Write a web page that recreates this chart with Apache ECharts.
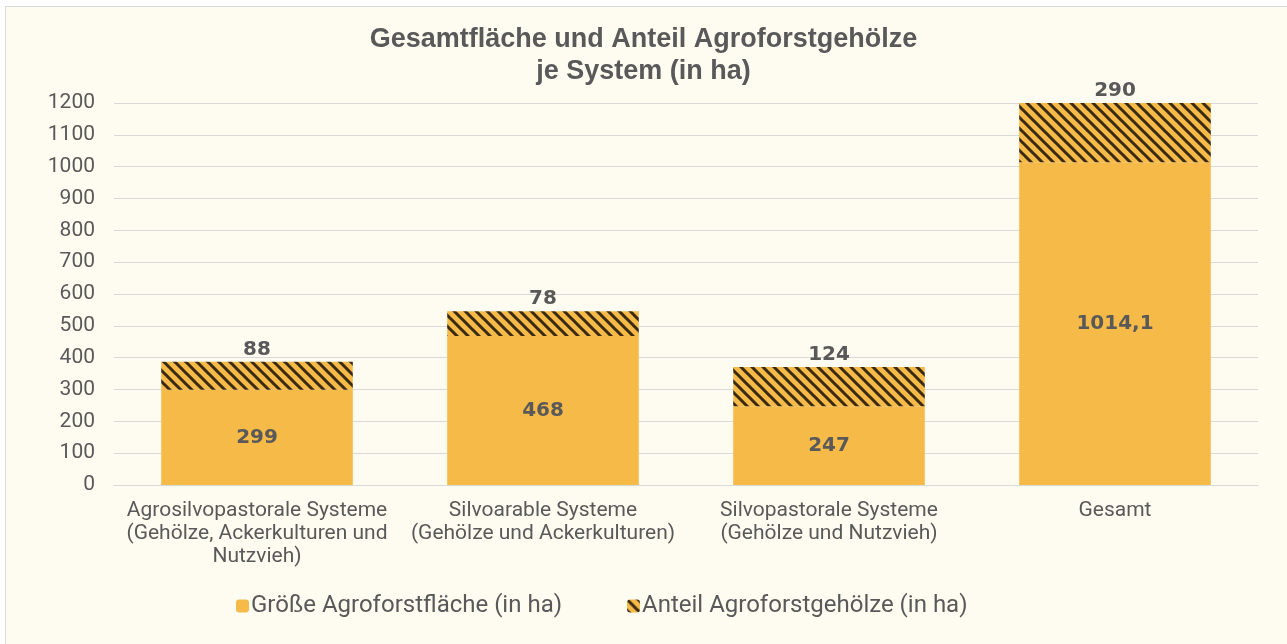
<!DOCTYPE html>
<html>
<head>
<meta charset="utf-8">
<script src="https://cdn.jsdelivr.net/npm/echarts@6/dist/echarts.min.js"></script>
<style>
  html, body { margin: 0; padding: 0; background: #ffffff; overflow: hidden; }
  #frame {
    position: absolute; left: 5px; top: 6px; width: 1300px; height: 660px;
    border: 1px solid #d9d9d9; background: #fefcf1;
  }
  #chart { position: absolute; left: -6px; top: -7px; width: 1287px; height: 644px; }
</style>
</head>
<body>
<div id="frame"><div id="chart"></div></div>
<script>
  // kategorien und werte (in ha)
  var categories = [
    'Agrosilvopastorale Systeme\n(Gehölze, Ackerkulturen und\nNutzvieh)',
    'Silvoarable Systeme\n(Gehölze und Ackerkulturen)',
    'Silvopastorale Systeme\n(Gehölze und Nutzvieh)',
    'Gesamt'
  ];
  var flaeche = [299, 468, 247, 1014.1];
  var gehoelze = [88, 78, 124, 290];
  var seriesNames = ['Größe Agroforstfläche (in ha)', 'Anteil Agroforstgehölze (in ha)'];

  var orange = '#f5ba48';
  var dark = '#3a2a12';
  var textColor = '#595959';
  var font = 'Roboto';

  // schraffur fuer den gehoelz-anteil
  function makeHatch() {
    var s = 11;
    var c = document.createElement('canvas');
    c.width = s; c.height = s;
    var ctx = c.getContext('2d');
    ctx.fillStyle = orange;
    ctx.fillRect(0, 0, s, s);
    ctx.strokeStyle = dark;
    ctx.lineWidth = 3;
    ctx.beginPath();
    ctx.moveTo(-s, -s); ctx.lineTo(2 * s, 2 * s);
    ctx.moveTo(-s, 0); ctx.lineTo(s, 2 * s);
    ctx.moveTo(0, -s); ctx.lineTo(2 * s, s);
    ctx.stroke();
    return c;
  }
  var hatch = makeHatch();

  var chart = echarts.init(document.getElementById('chart'));
  var options = {
    backgroundColor: 'transparent',
    animation: false,
    title: {
      text: 'Gesamtfläche und Anteil Agroforstgehölze\nje System (in ha)',
      left: 'center',
      top: 19,
      textStyle: {
        color: textColor, fontSize: 27, fontWeight: 'bold',
        fontFamily: 'Liberation Sans', lineHeight: 32
      }
    },
    legend: {
      data: seriesNames,
      left: 231,
      top: 589,
      itemWidth: 13,
      itemHeight: 13,
      itemGap: 65,
      textStyle: { color: textColor, fontSize: 24, fontFamily: font, padding: [0, 0, 0, -3] }
    },
    grid: {
      left: 114,
      right: 29,
      top: 103,
      bottom: 159
    },
    xAxis: {
      type: 'category',
      data: categories,
      axisLine: { show: true, lineStyle: { color: '#d9d9d9', width: 1 } },
      axisTick: { show: false },
      axisLabel: {
        color: textColor, fontSize: 21, fontFamily: font,
        lineHeight: 23, margin: 14, interval: 0
      }
    },
    yAxis: {
      type: 'value',
      min: 0,
      max: 1200,
      interval: 100,
      axisLine: { show: false },
      axisTick: { show: false },
      splitLine: { lineStyle: { color: '#d9d9d9', width: 1 } },
      axisLabel: {
        color: textColor, fontSize: 21, fontFamily: font, margin: 19,
        formatter: function (v) { return String(v); }
      }
    },
    series: [
      {
        name: seriesNames[0],
        type: 'bar',
        stack: 'total',
        barWidth: '67%',
        data: flaeche,
        itemStyle: { color: orange },
        label: {
          show: true,
          position: 'inside',
          color: textColor,
          fontSize: 20,
          fontWeight: 'bold',
          fontFamily: 'DejaVu Sans',
          formatter: function (p) { return String(p.value).replace('.', ','); }
        }
      },
      {
        name: seriesNames[1],
        type: 'bar',
        stack: 'total',
        data: gehoelze,
        clip: true,
        itemStyle: { color: { image: hatch, repeat: 'repeat' } },
        label: {
          show: true,
          position: 'top',
          distance: 2,
          color: textColor,
          fontSize: 20,
          fontWeight: 'bold',
          fontFamily: 'DejaVu Sans'
        }
      }
    ]
  };
  chart.setOption(options);
</script>
</body>
</html>
